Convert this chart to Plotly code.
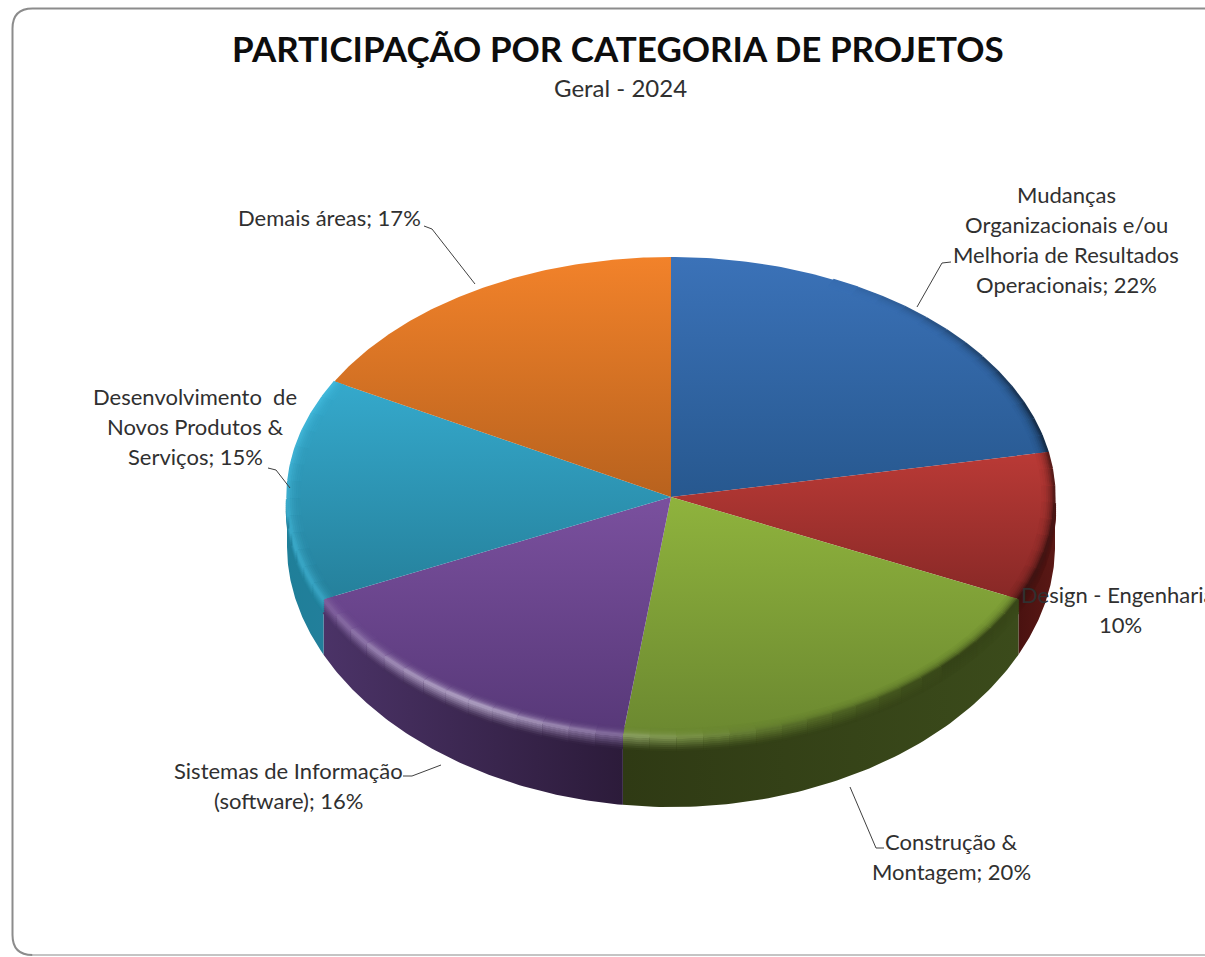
import numpy as np
import plotly.graph_objects as go

# ---- data -----
categories = ["Mudanças Organizacionais e/ou Melhoria de Resultados Operacionais",
              "Design - Engenharia", "Construção & Montagem",
              "Sistemas de Informação (software)",
              "Desenvolvimento de Novos Produtos & Serviços", "Demais áreas"]
values = [22, 10, 20, 16, 15, 17]
label_lines = [
    ["Mudanças", "Organizacionais e/ou", "Melhoria de Resultados", "Operacionais; 22%"],
    ["Design - Engenharia;", "10%"],
    ["Construção &", "Montagem; 20%"],
    ["Sistemas de Informação", "(software); 16%"],
    ["Desenvolvimento  de", "Novos Produtos &", "Serviços; 15%"],
    ["Demais áreas; 17%"],
]
title_text = "PARTICIPAÇÃO POR CATEGORIA DE PROJETOS"
subtitle_text = "Geral - 2024"

# ---- style / geometry -----
W, H = 1205, 957
CX, CY, RX, RY = 671, 497, 384, 240
top_grad = [("#3b72b8", "#27588f"), ("#ba3a36", "#872826"), ("#8fb33d", "#6b8830"),
            ("#7a509e", "#573878"), ("#35a9cc", "#25809b"), ("#f2822a", "#b8621e")]
side_grad = [("#20466f", "#20466f"), ("#4a1210", "#5a1815"), ("#2f3a14", "#3b4b1b"),
             ("#4b3367", "#2c1b3a"), ("#1f7f99", "#227f9b"), ("#b8621e", "#b8621e")]
label_pos = [(1066, 194), (1120, 594), (951, 841), (288, 770), (195, 396), (329, 217)]
leaders = [[(917, 307), (942, 263), (951, 262)],
           [(850, 787), (876, 848), (884, 848)],
           [(441, 765), (412, 776), (403, 776)],
           [(290, 488), (276, 470), (268, 468)],
           [(475, 284), (432, 229), (424, 226)]]
FONT = "Lato"
TXT = "#303030"


def hex2rgb(h):
    return np.array([int(h[i:i + 2], 16) for i in (1, 3, 5)], float)


def mix(a, b, w):
    return a + (b - a) * w


def css(c):
    c = np.clip(c, 0, 255)
    return f"rgb({int(c[0])},{int(c[1])},{int(c[2])})"


def pt(t, s=1.0, d=0.0):
    return CX + RX * s * np.sin(t), CY - RY * s * np.cos(t) + d


def depth(t):
    return 50 + 20 * np.abs(np.cos(t)) ** 1.5


fracs = np.array(values, float) / sum(values)
edges = np.concatenate([[0], np.cumsum(fracs)]) * 2 * np.pi
fig = go.Figure()


def add_poly(x, y, fill, grad):
    fig.add_trace(go.Scatter(x=x, y=y, mode="lines", fill="toself", line=dict(width=0),
                             hoverinfo="skip", showlegend=False, fillcolor=fill, fillgradient=grad))


# side wall
for i in range(len(values)):
    a = max(edges[i], np.pi / 2)
    b = min(edges[i + 1], 3 * np.pi / 2)
    if b <= a:
        continue
    t = np.linspace(a, b, 80)
    x0, y0 = pt(t)
    x1, y1 = pt(t[::-1], d=depth(t[::-1]))
    add_poly(np.r_[x0, x1], np.r_[y0, y1], side_grad[i][0],
             dict(type="horizontal", colorscale=[[0, side_grad[i][0]], [1, side_grad[i][1]]]))

# top surface (y axis is reversed, so the colourscale runs bottom -> top)
for i in range(len(values)):
    t = np.linspace(edges[i], edges[i + 1], 120)
    x, y = pt(t)
    add_poly(np.r_[CX, x, CX], np.r_[CY, y, CY], top_grad[i][0],
             dict(type="vertical", colorscale=[[0, top_grad[i][1]], [1, top_grad[i][0]]]))


def slice_color(i, y):
    tt = np.linspace(edges[i], edges[i + 1], 60)
    ys = np.r_[CY, pt(tt)[1]]
    w = (y - ys.min()) / max(ys.max() - ys.min(), 1)
    return mix(hex2rgb(top_grad[i][0]), hex2rgb(top_grad[i][1]), float(np.clip(w, 0, 1)))


def rim_weights(t):
    deg = np.degrees(t)
    h = max(0.0, np.cos(np.radians(deg - 212))) ** 8
    sh = np.clip((deg - 25) / 45, 0, 1) * np.clip((178 - deg) / 45, 0, 1)
    return h, sh


# soft bevel along the rim
STEP = np.radians(4)
inner = [(0.968, 0.04), (0.974, 0.10), (0.980, 0.2), (0.985, 0.33), (0.990, 0.5), (0.995, 0.72), (0.999, 0.92)]
outer = [(13.0, 0.95), (11.0, 0.85), (9.0, 0.72), (7.0, 0.56), (5.0, 0.4), (3.0, 0.25), (1.0, 0.08)]
for i in range(len(values)):
    n = max(int((edges[i + 1] - edges[i]) / STEP), 1)
    ts = np.linspace(edges[i], edges[i + 1], n + 1)
    for j in range(n):
        tm = (ts[j] + ts[j + 1]) / 2
        seg = np.linspace(ts[j], ts[j + 1], 5)
        h, sh = rim_weights(tm)
        front = np.pi / 2 < tm < 3 * np.pi / 2
        base = slice_color(i, pt(tm)[1])
        light = mix(base, np.array([235, 232, 245.]), 0.7)
        if categories[i].startswith("Desenvolvimento"):
            h, light = 0.55, np.array([80., 205., 240.])
        if h < 0.02 and sh < 0.02 and not front:
            continue
        dark = base * 0.35
        rim = mix(mix(base, dark, 0.85 * sh), light, 0.85 * h)
        for s, w in inner:
            x, y = pt(seg, s=s)
            fig.add_trace(go.Scatter(x=x, y=y, mode="lines", hoverinfo="skip", showlegend=False,
                                     line=dict(color=css(mix(base, rim, w)), width=2.2)))
        if front:
            frac = (tm - edges[i]) / (edges[i + 1] - edges[i])
            goes_right = pt(edges[i])[0] < pt(edges[i + 1])[0]
            sc = mix(hex2rgb(side_grad[i][0]), hex2rgb(side_grad[i][1]), frac if goes_right else 1 - frac)
            for d, w in outer:
                x, y = pt(seg, d=d)
                fig.add_trace(go.Scatter(x=x, y=y, mode="lines", hoverinfo="skip", showlegend=False,
                                         line=dict(color=css(mix(rim, sc, w)), width=2.4)))

shapes = []
# card: runs off the right edge of the picture
L, T, R, B, r = 12.5, 8.5, 1300, 955, 20
shapes.append(dict(type="path", layer="below",
                   path=f"M{L+r},{T} L{R},{T} L{R},{B} L{L+r},{B} Q{L},{B} {L},{B-r} L{L},{T+r} Q{L},{T} {L+r},{T} Z",
                   line=dict(width=0), fillcolor="#ffffff"))
shapes.append(dict(type="path", layer="below", path=f"M{L+r},{B} L{R},{B}",
                   line=dict(color="#c4c4c4", width=2)))
shapes.append(dict(type="path", layer="below",
                   path=f"M{L+r},{B} Q{L},{B} {L},{B-r} L{L},{T+r} Q{L},{T} {L+r},{T} L{R},{T}",
                   line=dict(color="#8c8c8c", width=2)))
for pts in leaders:
    shapes.append(dict(type="path", path="M" + " L".join(f"{x},{y}" for x, y in pts),
                       line=dict(color="#404040", width=1)))

ann = []
LINE = 30
for lines, (x, y) in zip(label_lines, label_pos):
    for k, ln in enumerate(lines):
        ann.append(dict(x=x, y=y + k * LINE, text=ln, showarrow=False, xanchor="center", yanchor="middle",
                        font=dict(family=FONT, size=22, color=TXT)))
ann.append(dict(x=617.5, y=48, text=f"<b>{title_text}</b>", showarrow=False, xanchor="center", yanchor="middle",
                font=dict(family=FONT, size=35, color="#0d0d0d")))
ann.append(dict(x=620, y=87, text=subtitle_text, showarrow=False, xanchor="center", yanchor="middle",
                font=dict(family=FONT, size=24, color=TXT)))

fig.update_layout(width=W, height=H, margin=dict(l=0, r=0, t=0, b=0), autosize=False,
                  paper_bgcolor="#ffffff", plot_bgcolor="#ffffff", shapes=shapes, annotations=ann,
                  xaxis=dict(range=[0, W], visible=False, fixedrange=True),
                  yaxis=dict(range=[H, 0], visible=False, fixedrange=True), hovermode=False)
fig.write_html("out.html", post_script="document.body.style.margin='0';", config=dict(displayModeBar=False))
